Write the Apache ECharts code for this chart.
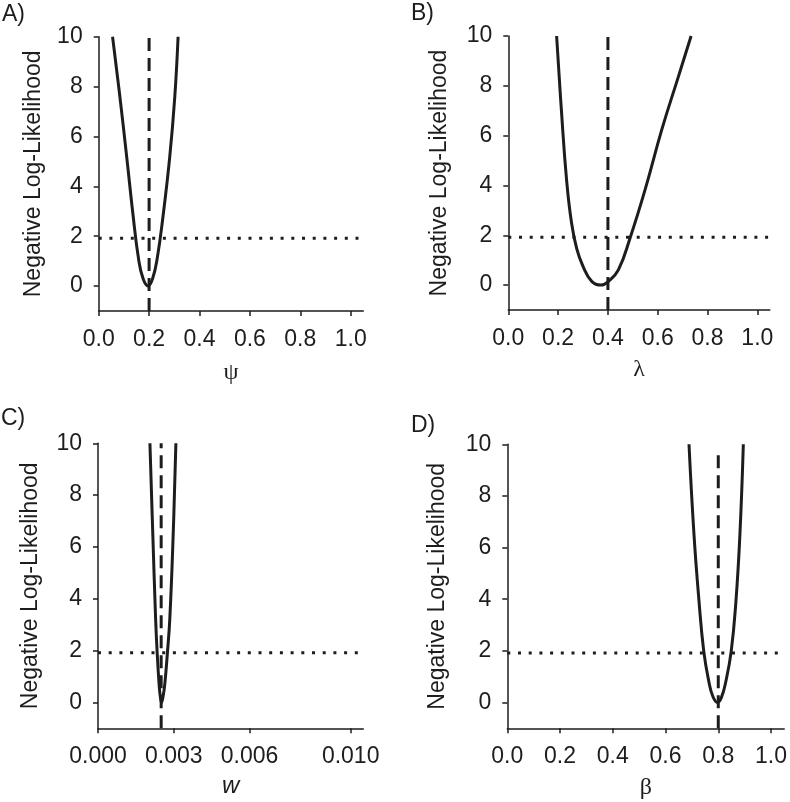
<!DOCTYPE html>
<html>
<head>
<meta charset="utf-8">
<script src="https://cdn.jsdelivr.net/npm/echarts@6/dist/echarts.min.js"></script>
<style>html,body{margin:0;padding:0;background:#fff}#c{width:790px;height:802px}</style>
</head>
<body>
<div id="c"></div>
<script>
// ---- data ----
const panelLetters = ['A)', 'B)', 'C)', 'D)'];
const axisNames = ['\u03C8', '\u03BB', 'w', '\u03B2'];
const yTicks = [0, 2, 4, 6, 8, 10];
const xTicksAB = [0, 0.2, 0.4, 0.6, 0.8, 1.0];
const xTicksC = [0, 0.003, 0.006, 0.010];
const xTicksD = [0, 0.2, 0.4, 0.6, 0.8, 1.0];
const xMax = [1.05, 1.05, 0.0105, 1.05];
const ciLevel = 1.92;
const mleX = [0.2, 0.4, 0.0025, 0.8];
const mleTop = [10, 10, 10, 9.66];

const curveA = [[0.055,10],[0.084,7.6],[0.111,5.19],[0.137,2.78],[0.158,1.1],[0.176,0.3],[0.196,0],[0.214,0.3],[0.232,1.1],[0.255,2.78],[0.282,5.19],[0.302,7.6],[0.315,10]];
const curveB = [[0.194,10],[0.214,6.9],[0.234,4.22],[0.254,2.49],[0.275,1.45],[0.300,0.75],[0.335,0.15],[0.372,0],[0.402,0.15],[0.442,0.61],[0.489,1.89],[0.549,3.82],[0.616,6.23],[0.683,8.37],[0.734,10]];
const curveC = [[0.002055,10],[0.00217,6.46],[0.00228,3.24],[0.00234,1.95],[0.00242,0.67],[0.00247,0.2],[0.002515,0],[0.00257,0.2],[0.00264,0.67],[0.00275,1.95],[0.002843,3.24],[0.002975,6.46],[0.003083,10]];
const curveD = [[0.689,10],[0.708,6.49],[0.727,3.92],[0.745,1.98],[0.764,0.82],[0.780,0.22],[0.797,0],[0.812,0.2],[0.828,0.78],[0.849,1.98],[0.867,3.92],[0.882,6.49],[0.895,10]];
const curves = [curveA, curveB, curveC, curveD];
const xTicks = [xTicksAB, xTicksAB, xTicksC, xTicksD];

// ---- layout ----
const grids = [
  {left: 98.7, top: 36.7, width: 264.6, height: 274.3},
  {left: 508.3, top: 36, width: 261.5, height: 274},
  {left: 98, top: 443.3, width: 265.3, height: 285},
  {left: 507.3, top: 444.3, width: 281, height: 284}
];
const letterPos = [[2, 3], [411, 2], [1, 407], [411, 414]];
const yNameGap = [54, 57, 56, 58];
const xNameGap = [50, 48, 46, 47];
const ink = '#1e1c1c';
const sans = 'Liberation Sans, Arial, sans-serif';
const serif = 'Liberation Serif, DejaVu Serif, serif';

const option = {
  backgroundColor: '#fff',
  animation: false,
  title: panelLetters.map((t, i) => ({
    text: t, left: letterPos[i][0], top: letterPos[i][1], padding: 0,
    textStyle: {fontFamily: sans, fontSize: 23, fontWeight: 'normal', color: ink}
  })),
  grid: grids,
  xAxis: grids.map((g, i) => ({
    type: 'value', gridIndex: i, min: 0, max: xMax[i],
    name: axisNames[i], nameLocation: 'middle', nameGap: xNameGap[i],
    nameTextStyle: {fontFamily: i === 2 ? sans : serif, fontStyle: i === 2 ? 'italic' : 'normal', fontSize: 24, color: ink},
    axisLine: {onZero: false, lineStyle: {color: ink, width: 1.5}},
    axisTick: {show: true, length: 5, customValues: xTicks[i], lineStyle: {color: ink, width: 1.5}},
    axisLabel: {customValues: xTicks[i], margin: 17, fontFamily: sans, fontSize: 23, color: ink,
      formatter: v => i === 2 ? v.toFixed(3) : v.toFixed(1)},
    splitLine: {show: false}
  })),
  yAxis: grids.map((g, i) => ({
    type: 'value', gridIndex: i, min: -1, max: 10,
    name: 'Negative Log-Likelihood', nameLocation: 'middle', nameGap: yNameGap[i],
    nameTextStyle: {fontFamily: sans, fontSize: 23, color: ink},
    axisLine: {onZero: false, lineStyle: {color: ink, width: 1.5}},
    axisTick: {show: true, length: 5, customValues: yTicks, lineStyle: {color: ink, width: 1.5}},
    axisLabel: {customValues: yTicks, margin: 16, fontFamily: sans, fontSize: 23, color: ink},
    splitLine: {show: false}
  })),
  series: []
};

for (let i = 0; i < 4; i++) {
  option.series.push({
    type: 'line', xAxisIndex: i, yAxisIndex: i, data: [[0, ciLevel], [xMax[i], ciLevel]],
    showSymbol: false, lineStyle: {color: ink, width: 3, type: [3, 7.7]}, z: 1
  });
  option.series.push({
    type: 'line', xAxisIndex: i, yAxisIndex: i, data: [[mleX[i], -1], [mleX[i], mleTop[i]]],
    showSymbol: false, lineStyle: {color: ink, width: 3, type: [13, 7]}, z: 2
  });
  option.series.push({
    type: 'line', xAxisIndex: i, yAxisIndex: i, data: curves[i], smooth: 0.45,
    showSymbol: false, lineStyle: {color: ink, width: 3}, z: 3
  });
}

const chart = echarts.init(document.getElementById('c'), null, {renderer: 'canvas'});
chart.setOption(option);
</script>
</body>
</html>
